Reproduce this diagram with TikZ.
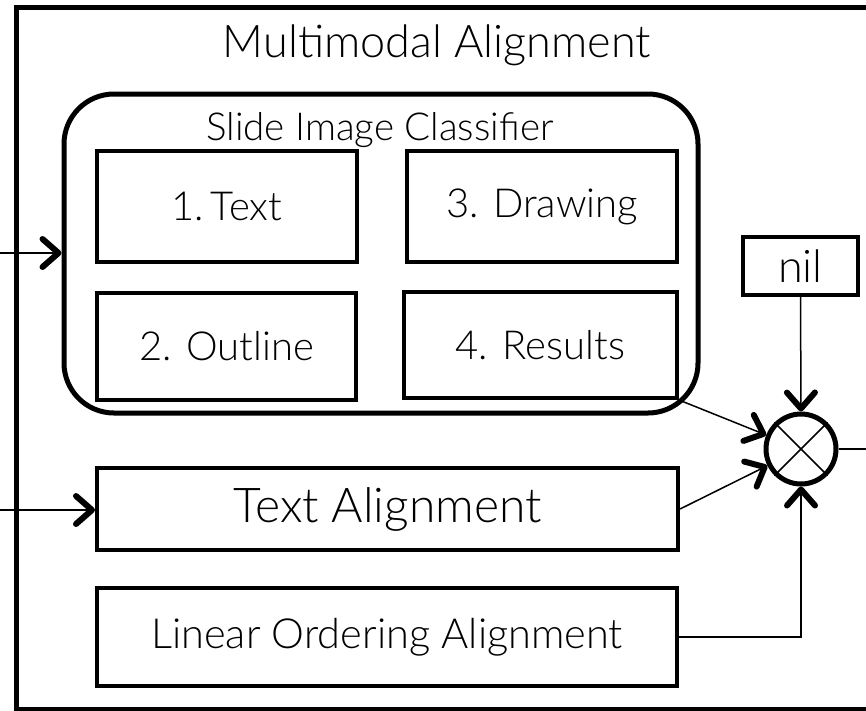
\documentclass[tikz,border=0pt]{standalone}
\usepackage{fontspec}
\setmainfont{Lato}[UprightFont=*-Light]
\usetikzlibrary{arrows.meta}
\begin{document}
\begin{tikzpicture}[x=1pt,y=-1pt,
  frame/.style={draw, line width=4pt, inner sep=0pt, font=\fontsize{40}{48}\selectfont},
  wire/.style={line width=1.5pt},
  conn/.style={wire, -{Straight Barb[length=16pt,width=28pt,line width=6pt 0 1,round]}},
]
\path[use as bounding box, clip] (0,0) rectangle (866,710);

% outer module frame (its right side runs past the page)
\draw[line width=5pt] (16,7) rectangle (890,709.5);
\node[font=\fontsize{45}{52}\selectfont] (title) at (437,45) {Multimodal Alignment};

% classifier group
\node[draw, line width=5pt, rounded corners=50pt, minimum width=634pt, minimum height=319pt] (cls) at (381,253.5) {};
\node[font=\fontsize{38.5}{44}\selectfont] (clsname) at (380,130) {Slide Image Classifier};
\node[frame, minimum width=260pt, minimum height=111pt] (t1) at (227,206.5) {1.\,Text};
\node[frame, minimum width=270pt, minimum height=111pt] (t3) at (542,206.5) {3. Drawing};
\node[frame, minimum width=259pt, minimum height=107pt] (t2) at (226.5,346.5) {2. Outline};
\node[frame, minimum width=273pt, minimum height=106pt] (t4) at (540.5,345) {4. Results};

% aligners
\node[frame, minimum width=581pt, minimum height=82pt, font=\fontsize{48}{56}\selectfont] (ta) at (387.5,509) {Text Alignment};
\node[frame, minimum width=580pt, minimum height=98pt, font=\fontsize{41.5}{48}\selectfont] (loa) at (387,637) {Linear Ordering Alignment};

% combiner
\node[frame, minimum width=115pt, minimum height=58pt, font=\fontsize{45}{52}\selectfont] (nil) at (800.5,266) {nil};
\node[draw, circle, line width=5pt, minimum size=70pt, inner sep=0pt] (mix) at (801,449) {};
\draw[wire] (mix.north west) -- (mix.south east);
\draw[wire] (mix.north east) -- (mix.south west);

% inputs and output
\coordinate (in1) at (0,253);
\coordinate (in2) at (0,510);
\coordinate (out) at (880,449);
\draw[conn] (in1) -- (in1 -| cls.west);
\draw[conn] (in2) -- (in2 -| ta.west);
\draw[conn] (nil.south) -- (mix.north);
\draw[conn] (t4.south east) -- (mix);
\draw[conn] (ta.east) -- (mix);
\draw[conn] (loa.east) -| (mix.south);
\draw[wire] (mix.east) -- (out);
\end{tikzpicture}
\end{document}
